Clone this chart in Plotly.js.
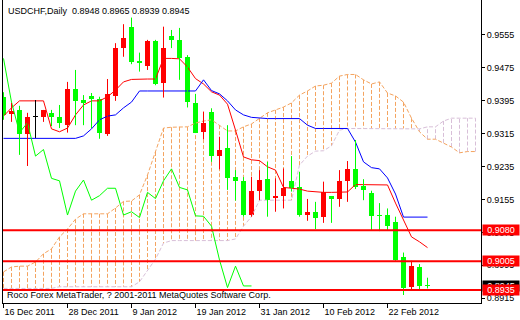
<!DOCTYPE html>
<html><head><meta charset="utf-8">
<script src="https://cdn.plot.ly/plotly-3.0.1.min.js"></script>
<style>html,body{margin:0;padding:0;background:#fff;}#chart{width:520px;height:320px;}</style>
</head><body><div id="chart"></div>
<script>
// ---- data (bar index 0 = 16 Dec 2011, 53 = 29 Feb 2012) ----
const symbolName = "USDCHF,Daily";
const open  = [0.9403,0.9362,0.9372,0.9314,0.9355,0.9356,0.9365,0.9354,0.9335,0.9422,0.9396,0.9406,0.9398,0.9314,0.9406,0.9523,0.9572,0.9491,0.9479,0.9539,0.9437,0.9552,0.9542,0.9500,0.9390,0.9319,0.9368,0.9260,0.9280,0.9210,0.9200,0.9117,0.9175,0.9204,0.9158,0.9162,0.9200,0.9184,0.9117,0.9125,0.9113,0.9162,0.9157,0.9200,0.9229,0.9187,0.9171,0.9117,0.9117,0.9099,0.9014,0.8943,0.8992,0.8948];
const high  = [0.9415,0.9389,0.9382,0.9365,0.9396,0.9372,0.9372,0.9384,0.9440,0.9469,0.9408,0.9413,0.9404,0.9447,0.9534,0.9580,0.9596,0.9511,0.9542,0.9542,0.9574,0.9566,0.9571,0.9505,0.9411,0.9368,0.9376,0.9307,0.9335,0.9226,0.9209,0.9210,0.9226,0.9246,0.9206,0.9230,0.9260,0.9222,0.9156,0.9149,0.9198,0.9163,0.9226,0.9248,0.9299,0.9204,0.9176,0.9146,0.9133,0.9113,0.9026,0.9006,0.8998,0.8965];
const low   = [0.9348,0.9343,0.9263,0.9236,0.9304,0.9343,0.9333,0.9328,0.9317,0.9335,0.9335,0.9328,0.9302,0.9309,0.9394,0.9501,0.9483,0.9465,0.9469,0.9432,0.9402,0.9522,0.9445,0.9378,0.9316,0.9301,0.9246,0.9228,0.9178,0.9152,0.9113,0.9113,0.9153,0.9113,0.9125,0.9133,0.9174,0.9113,0.9103,0.9083,0.9098,0.9098,0.9137,0.9149,0.9180,0.9153,0.9081,0.9078,0.9081,0.9006,0.8923,0.8935,0.8937,0.8939];
const close = [0.9360,0.9370,0.9314,0.9355,0.9355,0.9372,0.9354,0.9340,0.9424,0.9394,0.9390,0.9399,0.9317,0.9411,0.9523,0.9546,0.9489,0.9487,0.9539,0.9434,0.9522,0.9541,0.9497,0.9391,0.9317,0.9341,0.9260,0.9276,0.9206,0.9200,0.9117,0.9175,0.9202,0.9153,0.9164,0.9182,0.9182,0.9117,0.9125,0.9111,0.9172,0.9157,0.9200,0.9229,0.9184,0.9178,0.9115,0.9114,0.9090,0.9008,0.8941,0.8993,0.8945,0.8945];

// Ichimoku (7/22/44)
const tenkan = [0.9357,0.9377,0.9394,0.9394,0.9394,0.9394,0.9326,0.9319,0.9328,0.9360,0.9384,0.9394,0.9394,0.9404,0.9420,0.9440,0.9446,0.9447,0.9447,0.9447,0.9497,0.9497,0.9496,0.9476,0.9448,0.9435,0.9416,0.9408,0.9386,0.9323,0.9258,0.9251,0.9249,0.9234,0.9226,0.9184,0.9182,0.9180,0.9175,0.9173,0.9172,0.9172,0.9172,0.9173,0.9191,0.9191,0.9191,0.9191,0.9190,0.9146,0.9107,0.9064,0.9052,0.9038];
const kijun  = [0.9303,0.9303,0.9303,0.9303,0.9303,0.9303,0.9303,0.9303,0.9303,0.9303,0.9309,0.9326,0.9348,0.9357,0.9360,0.9377,0.9391,0.9418,0.9418,0.9418,0.9418,0.9418,0.9418,0.9418,0.9418,0.9445,0.9419,0.9411,0.9394,0.9372,0.9360,0.9354,0.9352,0.9351,0.9351,0.9351,0.9351,0.9351,0.9335,0.9327,0.9327,0.9327,0.9327,0.9327,0.9294,0.9246,0.9232,0.9229,0.9207,0.9168,0.9112,0.9112,0.9112,0.9112];
const senkouA = [0.8979,0.8991,0.8993,0.8993,0.9003,0.9023,0.9035,0.9064,0.9083,0.9107,0.9120,0.9120,0.9120,0.9120,0.9134,0.9150,0.9151,0.9166,0.9214,0.9270,0.9328,0.9330,0.9331,0.9331,0.9340,0.9345,0.9348,0.9335,0.9321,0.9321,0.9331,0.9338,0.9352,0.9365,0.9372,0.9379,0.9389,0.9408,0.9418,0.9430,0.9432,0.9437,0.9454,0.9458,0.9458,0.9445,0.9435,0.9440,0.9413,0.9406,0.9391,0.9352,0.9319,0.9301,0.9301,0.9292,0.9282,0.9268,0.9271,0.9271];
const senkouB = [0.8939,0.8939,0.8939,0.8939,0.8939,0.8939,0.8939,0.8943,0.8943,0.8943,0.8943,0.8943,0.8943,0.8943,0.8943,0.8943,0.8943,0.8955,0.8984,0.9010,0.9049,0.9055,0.9055,0.9055,0.9055,0.9055,0.9055,0.9055,0.9055,0.9059,0.9090,0.9113,0.9153,0.9153,0.9153,0.9153,0.9153,0.9238,0.9260,0.9272,0.9273,0.9285,0.9323,0.9327,0.9327,0.9327,0.9327,0.9327,0.9327,0.9327,0.9327,0.9327,0.9326,0.9331,0.9331,0.9345,0.9352,0.9352,0.9352,0.9352];
const chikouShift = 22;

const levels = [0.9080, 0.9005, 0.8935];
const xTickIdx  = [0, 8, 16, 24, 32, 40, 48];
const xTickText = ["16 Dec 2011","28 Dec 2011","9 Jan 2012","19 Jan 2012","31 Jan 2012","10 Feb 2012","22 Feb 2012"];
const yTicks = [0.9555, 0.9475, 0.9395, 0.9315, 0.9235, 0.9155, 0.9075, 0.8995, 0.8915];
const copyrightText = "Roco Forex MetaTrader, ? 2001-2011 MetaQuotes Software Corp.";

// ---- styles ----
const RED = '#FF0000', GREEN = '#00FF00', BLUE = '#0000FF', SANDY = '#F4A460', THISTLE = '#D8BFD8';
const FONT = 'Liberation Sans, Arial, sans-serif';

const idx = open.map((_, i) => i);
const spanIdx = senkouA.map((_, i) => i);

// cloud hatching
const hatch = {up: {x: [], y: []}, dn: {x: [], y: []}};
spanIdx.forEach(i => {
  const a = senkouA[i], b = senkouB[i];
  const t = a >= b ? hatch.up : hatch.dn;
  t.x.push(i, i, null); t.y.push(a, b, null);
});

const traces = [];
const dashStyle = '4px,2px';
traces.push({type: 'scatter', mode: 'lines', x: hatch.up.x, y: hatch.up.y, line: {color: SANDY, width: 1, dash: dashStyle}, hoverinfo: 'skip'});
traces.push({type: 'scatter', mode: 'lines', x: hatch.dn.x, y: hatch.dn.y, line: {color: THISTLE, width: 1, dash: dashStyle}, hoverinfo: 'skip'});
traces.push({type: 'scatter', mode: 'lines', x: spanIdx, y: senkouA, line: {color: SANDY, width: 1, dash: dashStyle}});
traces.push({type: 'scatter', mode: 'lines', x: spanIdx, y: senkouB, line: {color: THISTLE, width: 1, dash: dashStyle}});
traces.push({type: 'scatter', mode: 'lines', x: idx, y: tenkan, line: {color: RED, width: 1}});
traces.push({type: 'scatter', mode: 'lines', x: idx, y: kijun, line: {color: BLUE, width: 1}});
traces.push({type: 'scatter', mode: 'lines', x: idx.slice(chikouShift).map(i => i - chikouShift), y: close.slice(chikouShift), line: {color: GREEN, width: 1}});

// candles
const wick = {};
const base = [], len = [], col = [];
const minBody = 0.00025;
idx.forEach(i => {
  const c = close[i] > open[i] ? RED : (close[i] < open[i] ? GREEN : '#000000');
  if (!wick[c]) wick[c] = {x: [], y: []};
  wick[c].x.push(i, i, null); wick[c].y.push(low[i], high[i], null);
  const lo = Math.min(open[i], close[i]), hi = Math.max(open[i], close[i]);
  const h = Math.max(hi - lo, minBody);
  base.push((lo + hi) / 2 - h / 2); len.push(h); col.push(c);
});
Object.keys(wick).forEach(c => traces.push({type: 'scatter', mode: 'lines', x: wick[c].x, y: wick[c].y, line: {color: c, width: 1}}));
traces.push({type: 'bar', x: idx, y: len, base: base, width: 0.6, marker: {color: col, line: {width: 0}}});

const last = idx.length - 1;
const shapes = levels.map(v => ({type: 'line', xref: 'paper', x0: 0, x1: 1, yref: 'y', y0: v, y1: v, line: {color: RED, width: 2}, layer: 'above'}));

const annotations = [
  {xref: 'paper', yref: 'paper', x: 0, y: 1, xanchor: 'left', yanchor: 'top', xshift: 3, yshift: -4, showarrow: false,
   text: symbolName + '\u00a0\u00a0' + [open[last], high[last], low[last], close[last]].map(v => v.toFixed(4)).join(' '),
   font: {family: FONT, size: 9, color: '#000'}},
  {xref: 'paper', yref: 'paper', x: 0, y: 0, xanchor: 'left', yanchor: 'bottom', xshift: 2, yshift: 1, showarrow: false,
   text: copyrightText, font: {family: FONT, size: 9, color: '#000'}},
  {xref: 'paper', yref: 'y', x: 1, y: close[last], xanchor: 'left', yanchor: 'middle', xshift: 1, showarrow: false,
   text: close[last].toFixed(4), bgcolor: '#000', width: 36, height: 10, borderpad: 0, font: {family: FONT, size: 9, color: '#fff'}}
].concat(levels.map(v => ({xref: 'paper', yref: 'y', x: 1, y: v, xanchor: 'left', yanchor: 'middle', xshift: 1, showarrow: false,
   text: v.toFixed(4), bgcolor: RED, width: 36, height: 10, borderpad: 0, font: {family: FONT, size: 9, color: '#fff'}})));

const layout = {
  width: 520, height: 320,
  margin: {l: 3, r: 39, t: 0, b: 17, pad: 0},
  paper_bgcolor: '#fff', plot_bgcolor: '#fff', showlegend: false,
  font: {family: FONT, size: 9, color: '#000'},
  xaxis: {range: [-0.0625, 59.6875], tickmode: 'array', tickvals: xTickIdx, ticktext: xTickText,
          ticks: 'outside', ticklen: 4, tickcolor: '#000', tickwidth: 1, showline: true, linecolor: '#000', linewidth: 1,
          showgrid: false, zeroline: false, ticklabelposition: 'outside right', fixedrange: true,
          tickfont: {family: FONT, size: 9, color: '#000'}},
  yaxis: {range: [0.89036, 0.96387], side: 'right', tickmode: 'array', tickvals: yTicks, tickformat: '.4f',
          ticks: 'outside', ticklen: 3, tickcolor: '#000', tickwidth: 1, showline: true, mirror: true, linecolor: '#000', linewidth: 1,
          showgrid: false, zeroline: false, fixedrange: true, tickfont: {family: FONT, size: 9, color: '#000'}},
  bargap: 0, shapes: shapes, annotations: annotations
};
Plotly.newPlot('chart', traces, layout, {displayModeBar: false, staticPlot: true});
</script></body></html>
